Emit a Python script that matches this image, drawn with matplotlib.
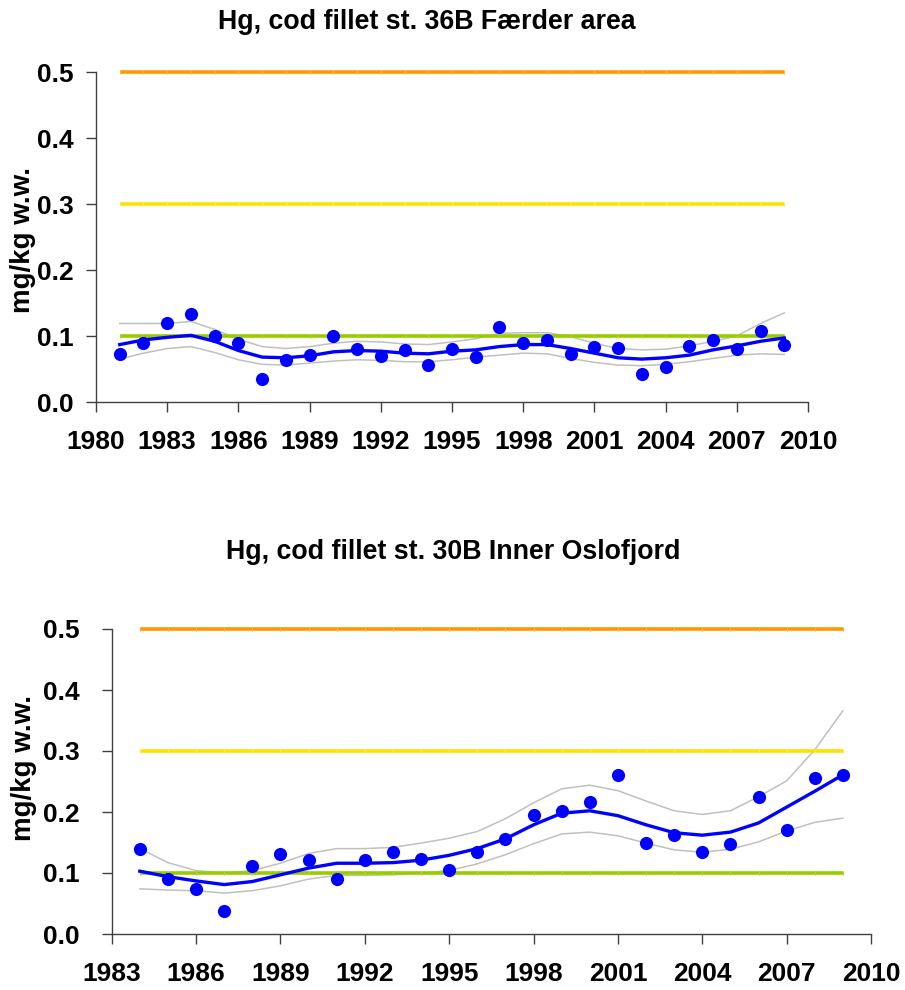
import matplotlib
matplotlib.use("Agg")
import matplotlib.pyplot as plt
from matplotlib import font_manager

# ---------------- data ----------------
years_top = list(range(1981, 2010))
hg_top = [0.073, 0.090, 0.120, 0.134, 0.100, 0.090, 0.035, 0.064, 0.071, 0.100,
          0.080, 0.070, 0.079, 0.056, 0.081, 0.068, 0.113, 0.089, 0.094, 0.072,
          0.083, 0.082, 0.043, 0.053, 0.085, 0.094, 0.081, 0.108, 0.086]
smooth_top = [0.087, 0.094, 0.098, 0.101, 0.092, 0.078, 0.068, 0.067, 0.070, 0.076,
              0.078, 0.077, 0.074, 0.073, 0.077, 0.079, 0.084, 0.087, 0.087, 0.081,
              0.074, 0.067, 0.065, 0.067, 0.071, 0.079, 0.085, 0.092, 0.097]
upper_top = [0.119, 0.119, 0.119, 0.122, 0.110, 0.095, 0.084, 0.081, 0.084, 0.089,
             0.092, 0.091, 0.088, 0.087, 0.091, 0.096, 0.104, 0.105, 0.105, 0.099,
             0.089, 0.081, 0.079, 0.080, 0.085, 0.092, 0.100, 0.119, 0.135]
lower_top = [0.065, 0.074, 0.081, 0.084, 0.075, 0.064, 0.057, 0.056, 0.059, 0.062,
             0.064, 0.063, 0.061, 0.061, 0.064, 0.068, 0.071, 0.074, 0.073, 0.066,
             0.060, 0.056, 0.055, 0.057, 0.061, 0.066, 0.071, 0.073, 0.072]

years_bot = list(range(1984, 2010))
hg_bot = [0.140, 0.090, 0.073, 0.038, 0.112, 0.131, 0.121, 0.090, 0.121, 0.134,
          0.123, 0.105, 0.134, 0.155, 0.195, 0.201, 0.217, 0.260, 0.150, 0.163,
          0.134, 0.147, 0.225, 0.170, 0.255, 0.261]
smooth_bot = [0.103, 0.094, 0.087, 0.081, 0.086, 0.097, 0.108, 0.116, 0.116, 0.117,
              0.121, 0.129, 0.140, 0.156, 0.179, 0.198, 0.202, 0.194, 0.179, 0.166,
              0.162, 0.167, 0.182, 0.208, 0.234, 0.261]
upper_bot = [0.140, 0.117, 0.104, 0.100, 0.104, 0.116, 0.132, 0.140, 0.140, 0.142,
             0.149, 0.157, 0.168, 0.189, 0.215, 0.238, 0.244, 0.235, 0.218, 0.202,
             0.196, 0.202, 0.225, 0.251, 0.302, 0.366]
lower_bot = [0.074, 0.072, 0.071, 0.067, 0.071, 0.079, 0.090, 0.096, 0.096, 0.097,
             0.100, 0.104, 0.115, 0.130, 0.148, 0.164, 0.167, 0.161, 0.149, 0.138,
             0.134, 0.139, 0.151, 0.169, 0.183, 0.190]

thresholds = [0.5, 0.3, 0.1]
threshold_colors = ["#FF9900", "#FFE100", "#99CC00"]
threshold_marks = ["#FFB040", "#FFEB50", "#ADD630"]
yticks = [0.0, 0.1, 0.2, 0.3, 0.4, 0.5]
xticks_top = [1980, 1983, 1986, 1989, 1992, 1995, 1998, 2001, 2004, 2007, 2010]
xticks_bot = [1983, 1986, 1989, 1992, 1995, 1998, 2001, 2004, 2007, 2010]

title_top = "Hg, cod fillet st. 36B Færder area"
title_bot = "Hg, cod fillet st. 30B Inner Oslofjord"
ylabel = "mg/kg w.w."

# ---------------- fonts ----------------
names = {f.name for f in font_manager.fontManager.ttflist}
base_font = "Liberation Sans" if "Liberation Sans" in names else "DejaVu Sans"
narrow_font = "Liberation Sans Narrow" if "Liberation Sans Narrow" in names else base_font
plt.rcParams["font.family"] = [base_font, "DejaVu Sans"]

W, H = 905, 990
fig = plt.figure(figsize=(W / 100, H / 100), dpi=100)


def px_axes(left, top, right, bottom):
    return fig.add_axes([left / W, 1 - bottom / H, (right - left) / W, (bottom - top) / H])


def draw(ax, years, hg, smooth, upper, lower, xticks, ypad, xpad):
    ax.plot(years, upper, color="#C0C0C0", lw=1.1, zorder=2, clip_on=False)
    ax.plot(years, lower, color="#C0C0C0", lw=1.1, zorder=2, clip_on=False)
    for t, c, mc in zip(thresholds, threshold_colors, threshold_marks):
        ax.plot(years, [t] * len(years), color=c, lw=2.6, zorder=3,
                solid_capstyle="butt", marker="|", markersize=3.5,
                markeredgewidth=0.8, markeredgecolor=mc, clip_on=False)
    ax.plot(years, smooth, color="#0000FF", lw=2.4, zorder=4, clip_on=False)
    ax.scatter(years, hg, s=90, color="#0000FF", zorder=5, linewidths=0,
               clip_on=False)
    ax.set_ylim(0, 0.5)
    ax.set_xlim(xticks[0], xticks[-1])
    ax.set_yticks(yticks)
    ax.set_yticklabels([f"{v:.1f}" for v in yticks])
    ax.set_xticks(xticks)
    ax.set_xticklabels([str(v) for v in xticks])
    for s in ["top", "right"]:
        ax.spines[s].set_visible(False)
    for s in ["left", "bottom"]:
        ax.spines[s].set_color("#404040")
        ax.spines[s].set_linewidth(1.0)
    ax.tick_params(axis="both", direction="out", length=7, width=1.0,
                   color="#404040", labelsize=19)
    ax.tick_params(axis="y", pad=ypad)
    ax.tick_params(axis="x", pad=xpad)
    for lab in ax.get_xticklabels() + ax.get_yticklabels():
        lab.set_fontweight("bold")
    ax.set_facecolor("white")


ax1 = px_axes(96, 72, 808, 402)
draw(ax1, years_top, hg_top, smooth_top, upper_top, lower_top, xticks_top, 9.0, 13.0)
ax2 = px_axes(111.7, 629, 871, 934)
draw(ax2, years_bot, hg_bot, smooth_bot, upper_bot, lower_bot, xticks_bot, 16.0, 13.5)

fig.text(427 / W, 1 - 22 / H, title_top, ha="center", va="center",
         fontsize=19.3, fontweight="bold", family=[narrow_font, "DejaVu Sans"])
fig.text(453 / W, 1 - 552 / H, title_bot, ha="center", va="center",
         fontsize=19.3, fontweight="bold", family=[narrow_font, "DejaVu Sans"])

fig.text(23 / W, 1 - 240 / H, ylabel, rotation=90, ha="center", va="center",
         fontsize=20, fontweight="bold")
fig.text(24 / W, 1 - 768 / H, ylabel, rotation=90, ha="center", va="center",
         fontsize=20, fontweight="bold")

fig.savefig("out.png", dpi=100, facecolor="white")
